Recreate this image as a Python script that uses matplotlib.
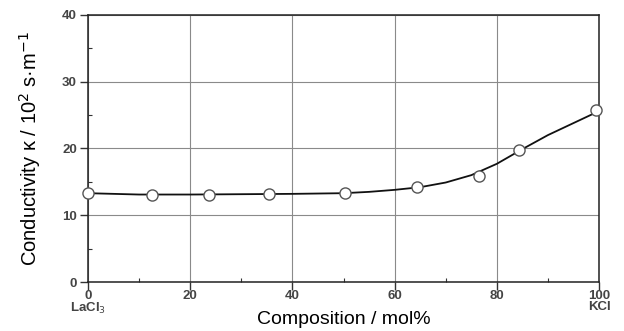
import numpy as np
import matplotlib.pyplot as plt
from matplotlib.ticker import MultipleLocator

plt.rcParams["font.family"] = ["Liberation Sans", "DejaVu Sans"]

# measured points (mol% KCl, conductivity)
comp = [0, 12.5, 23.7, 35.5, 50.3, 64.3, 76.5, 84.4, 99.5]
kappa = [13.3, 13.1, 13.1, 13.2, 13.3, 14.2, 15.9, 19.7, 25.8]

# smoothed curve as drawn in the figure
curve_x = [0, 10, 20, 30, 40, 50, 55, 60, 65, 70, 75, 80, 85, 90, 95, 100]
curve_y = [13.3, 13.1, 13.1, 13.15, 13.2, 13.3, 13.5, 13.8, 14.2, 14.9, 16.0, 17.7, 19.9, 22.0, 23.8, 25.6]

xtick_vals = [0, 20, 40, 60, 80, 100]
xtick_labels = ["0\nLaCl$_3$", "20", "40", "60", "80", "100\nKCl"]
ytick_vals = [0, 10, 20, 30, 40]

fig = plt.figure(figsize=(6.24, 3.31), dpi=100)
ax = fig.add_axes([0.141, 0.148, 0.819, 0.807])

ax.plot(curve_x, curve_y, color="#111111", lw=1.3, zorder=3)
ax.plot(comp, kappa, "o", ms=8, mfc="white", mec="#555555", mew=1.0, zorder=4, clip_on=False)

ax.set_xlim(0, 100)
ax.set_ylim(0, 40)
ax.set_xticks(xtick_vals)
ax.set_xticklabels(xtick_labels, linespacing=0.9)
ax.set_yticks(ytick_vals)
ax.xaxis.set_minor_locator(MultipleLocator(10))
ax.yaxis.set_minor_locator(MultipleLocator(5))

ax.grid(True, which="major", color="#8a8a8a", lw=0.8)
ax.tick_params(which="major", direction="out", length=6, width=1.0, color="#333333",
               labelsize=9.5, labelcolor="#444444", pad=2)
ax.tick_params(axis="x", which="major", pad=0)
ax.tick_params(which="minor", direction="in", length=3, width=0.8, color="#333333")
for lab in ax.get_xticklabels() + ax.get_yticklabels():
    lab.set_fontweight("bold")
for s in ax.spines.values():
    s.set_color("#222222")
    s.set_linewidth(1.1)

ax.set_xlabel("Composition / mol%", fontsize=14)
ax.xaxis.set_label_coords(0.5, -0.11)
ax.set_ylabel("Conductivity κ / 10$^2$ s·m$^{-1}$", fontsize=14.5, labelpad=14)

fig.savefig("out.png", dpi=100)
